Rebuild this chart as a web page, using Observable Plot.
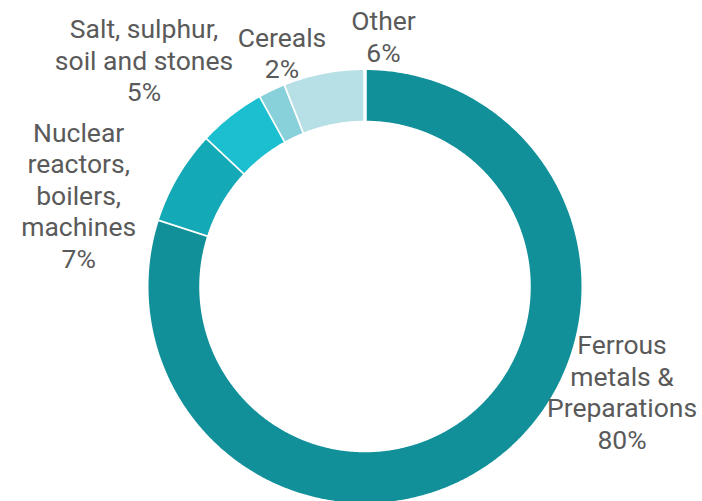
<!DOCTYPE html>
<html>
<head>
<meta charset="utf-8">
<script src="https://cdn.jsdelivr.net/npm/d3@7"></script>
<script src="https://cdn.jsdelivr.net/npm/@observablehq/plot@0.6"></script>
<style>
  html, body { margin: 0; padding: 0; background: #ffffff; }
  #chart svg { display: block; }
</style>
</head>
<body>
<div id="chart"></div>
<script>
// ---- data ----
const categories = [
  "Ferrous metals & Preparations",
  "Nuclear reactors, boilers, machines",
  "Salt, sulphur, soil and stones",
  "Cereals",
  "Other"
];
const shares = [80, 7, 5, 2, 6];
const labelLines = [
  ["Ferrous", "metals &", "Preparations"],
  ["Nuclear", "reactors,", "boilers,", "machines"],
  ["Salt, sulphur,", "soil and stones"],
  ["Cereals"],
  ["Other"]
];
const colors = ["#11909a", "#14a9b6", "#1bbfcf", "#88d0da", "#b7e0e6"];

// ---- layout (label placement in polar terms, degrees clockwise from top) ----
const labelAngles = [112.2, 287.8, 315.75, 340.45, 4.22];
const labelRadii = [1.272, 1.378, 1.451, 1.137, 1.152];
const innerRatio = 0.7515;

// ---- build donut slices as polygons in unit space ----
const total = d3.sum(shares);
const rad = (deg) => deg * Math.PI / 180;
const slicePoints = [];
let acc = 0;
categories.forEach((cat, i) => {
  const a0 = acc / total * 360;
  acc += shares[i];
  const a1 = acc / total * 360;
  const n = Math.max(2, Math.ceil((a1 - a0) / 0.5));
  for (let k = 0; k <= n; k++) {
    const a = rad(a0 + (a1 - a0) * k / n);
    slicePoints.push({category: cat, x: Math.sin(a), y: Math.cos(a)});
  }
  for (let k = n; k >= 0; k--) {
    const a = rad(a0 + (a1 - a0) * k / n);
    slicePoints.push({category: cat, x: innerRatio * Math.sin(a), y: innerRatio * Math.cos(a)});
  }
});

const labels = categories.map((cat, i) => ({
  category: cat,
  text: labelLines[i].join("\n") + "\n" + shares[i] + "%",
  x: labelRadii[i] * Math.sin(rad(labelAngles[i])),
  y: labelRadii[i] * Math.cos(rad(labelAngles[i]))
}));

const chart = Plot.plot({
  width: 702,
  height: 501,
  style: {background: "#ffffff"},
  x: {domain: [-1, 1], range: [146.25, 582.75], axis: null},
  y: {domain: [-1, 1], range: [504.25, 67.75], axis: null},
  color: {domain: categories, range: colors},
  marks: [
    Plot.line(slicePoints, {
      x: "x", y: "y", z: "category",
      fill: "category",
      stroke: "#ffffff",
      strokeWidth: 3.5,
      curve: "linear"
    }),
    Plot.text(labels, {
      x: "x", y: "y", text: "text",
      fill: "#5a5a5a",
      fontFamily: "Roboto",
      fontSize: 26.5,
      lineHeight: 1.19,
      textAnchor: "middle",
      lineAnchor: "middle"
    })
  ]
});
document.getElementById("chart").appendChild(chart);
</script>
</body>
</html>
